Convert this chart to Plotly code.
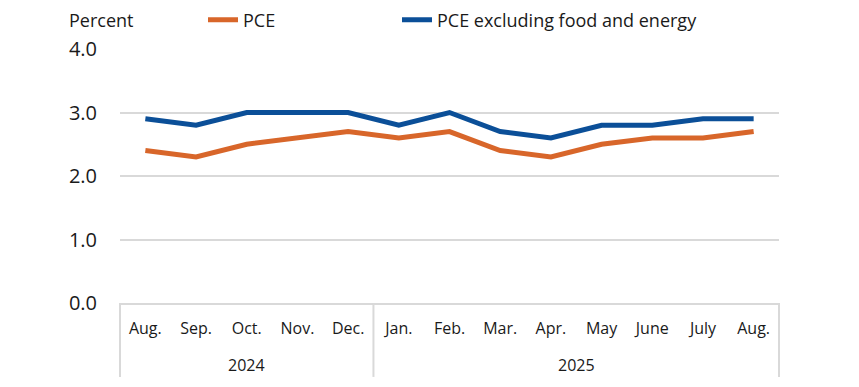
import plotly.graph_objects as go

months = ["Aug.", "Sep.", "Oct.", "Nov.", "Dec.", "Jan.", "Feb.", "Mar.", "Apr.", "May", "June", "July", "Aug."]
years = ["2024"] * 5 + ["2025"] * 8
pce = [2.4, 2.3, 2.5, 2.6, 2.7, 2.6, 2.7, 2.4, 2.3, 2.5, 2.6, 2.6, 2.7]
core = [2.9, 2.8, 3.0, 3.0, 3.0, 2.8, 3.0, 2.7, 2.6, 2.8, 2.8, 2.9, 2.9]
y_ticks = [0, 1, 2, 3, 4]

FONT = "Open Sans"
ORANGE = "#D8662A"
BLUE = "#0B4F98"
GRID = "#D9D9D9"
TXT = "#1a1a1a"

W, H = 851, 379  # page body has an 8px margin
n = len(months)
xs = list(range(n))

fig = go.Figure()
fig.add_trace(go.Scatter(x=xs, y=pce, mode="lines", name="PCE", legend="legend",
                         line=dict(color=ORANGE, width=5)))
fig.add_trace(go.Scatter(x=xs, y=core, mode="lines", name="PCE excluding food and energy",
                         legend="legend2", line=dict(color=BLUE, width=5)))

# Group boundaries and year labels
groups = []
for i, yv in enumerate(years):
    if not groups or groups[-1][0] != yv:
        groups.append([yv, i, i])
    else:
        groups[-1][2] = i

bottom = -0.291
shapes = []
bounds = sorted(set([g[1] for g in groups] + [groups[-1][2] + 1]))
for b in bounds:
    xp = b / n
    shapes.append(dict(type="line", xref="paper", yref="paper", x0=xp, x1=xp,
                       y0=0, y1=bottom, line=dict(color=GRID, width=2)))

annotations = []
for yv, s, e in groups:
    annotations.append(dict(text=yv, xref="paper", yref="paper", x=(s + e + 1) / 2 / n,
                            y=-0.244, showarrow=False, xanchor="center", yanchor="middle",
                            font=dict(family=FONT, size=16, color=TXT)))
annotations.append(dict(text="Percent", xref="paper", yref="paper", x=-0.0804, y=1.114,
                        xanchor="left", yanchor="middle", showarrow=False,
                        font=dict(family=FONT, size=18, color=TXT)))

leg_common = dict(orientation="h", xref="container", yref="container", y=1 - 12 / H,
                  xanchor="left", yanchor="middle", bgcolor="rgba(0,0,0,0)",
                  font=dict(family=FONT, size=18, color=TXT))

fig.update_layout(
    width=W, height=H,
    margin=dict(l=112, r=80, t=41, b=84),
    paper_bgcolor="white", plot_bgcolor="white",
    font=dict(family=FONT, color=TXT),
    showlegend=True,
    legend=dict(x=195 / W, **leg_common),
    legend2=dict(x=389 / W, **leg_common),
    xaxis=dict(tickmode="array", tickvals=xs, ticktext=months, range=[-0.5, n - 0.5],
               showgrid=False, zeroline=False, showline=True, linecolor=GRID, linewidth=2,
               ticks="outside", ticklen=10, tickcolor="rgba(0,0,0,0)", automargin=False,
               tickfont=dict(family=FONT, size=16, color=TXT), fixedrange=True),
    yaxis=dict(range=[0, 4], tickvals=y_ticks, tickformat=".1f", showgrid=True,
               gridcolor=GRID, gridwidth=2, zeroline=False, showline=False,
               ticks="outside", ticklen=18, tickcolor="rgba(0,0,0,0)", automargin=False,
               tickfont=dict(family=FONT, size=20, color=TXT), fixedrange=True),
    shapes=shapes,
    annotations=annotations,
)

fig.write_html("out.html")
